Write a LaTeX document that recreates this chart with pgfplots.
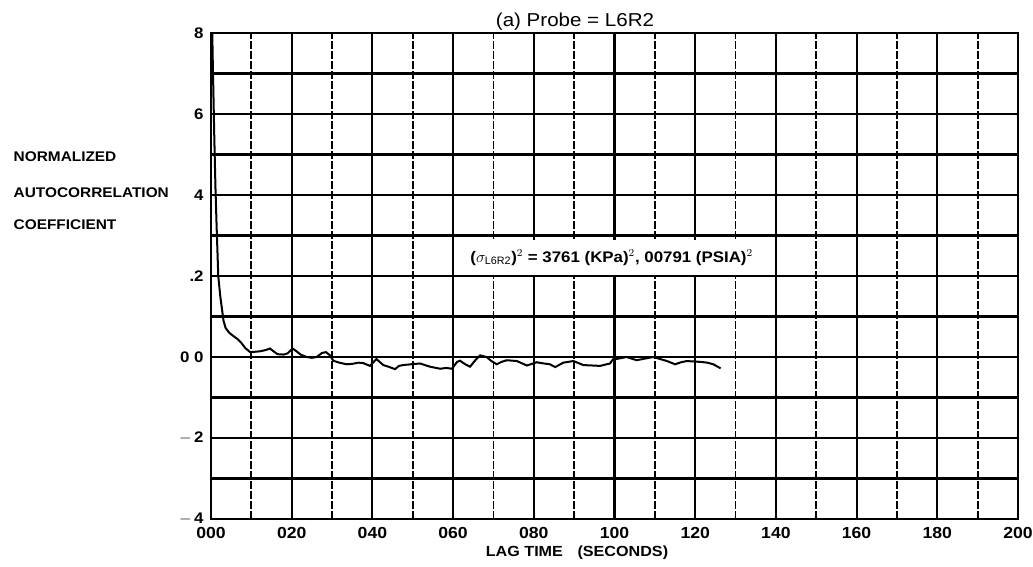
\documentclass[border=0pt]{standalone}
\usepackage{pgfplots}
\pgfplotsset{compat=1.18}
\usepackage{fontspec}
\setmainfont{Liberation Sans}
\newfontfamily\wide[FakeStretch=1.1]{Liberation Sans}
\begin{document}
\begin{tikzpicture}[x=0.75pt,y=0.75pt]
\useasboundingbox (0,0) rectangle (1033,567);
\begin{axis}[
  at={(158.25pt,36pt)}, anchor=south west,
  scale only axis, width=605.25pt, height=364.5pt,
  xmin=0, xmax=200, ymin=-0.4, ymax=0.8,
  xtick={0,20,...,200},
  xticklabels={000,020,040,060,080,100,120,140,160,180,200},
  minor xtick={10,30,...,190},
  ytick={-0.4,-0.2,0,0.2,0.4,0.6,0.8},
  yticklabels={$-$\,4,$-$\,2,0 0,.2,4,6,8},
  minor ytick={-0.3,-0.1,0.1,0.3,0.5,0.7},
  major tick length=0pt, minor tick length=0pt,
  xmajorgrids, ymajorgrids, xminorgrids, yminorgrids,
  major grid style={black, line width=1.6pt},
  minor x grid style={black, line width=1.3pt, dash pattern=on 6pt off 1.5pt},
  minor y grid style={black, line width=1.6pt},
  axis line style={black, line width=2pt},
  xticklabel style={font=\wide\fontsize{12}{14}\selectfont\bfseries, yshift=-3pt},
  yticklabel style={font=\wide\fontsize{11.5}{13}\selectfont\bfseries, xshift=-2pt},
  /pgf/number format/assume math mode=true,
  clip=true,
]
\addplot[black, line width=1.5pt] coordinates {
(0.0,1.00) (0.4,0.75) (0.8,0.55) (1.1,0.42) (1.4,0.32) (1.8,0.20) (2.3,0.15)
(2.7,0.12) (3.1,0.09) (3.6,0.072) (4.5,0.060) (5.5,0.052) (6.5,0.045)
(7.5,0.035) (8.5,0.022) (9.7,0.012) (11.0,0.013) (12.1,0.014) (13.5,0.017)
(14.6,0.021) (15.5,0.014) (16.5,0.007) (18.0,0.006) (19.0,0.009) (20.2,0.021)
(21.2,0.014) (22.2,0.006) (23.7,0.000) (25.0,-0.002) (26.2,0.000) (27.5,0.010)
(28.5,0.012) (29.5,0.004) (30.3,-0.009) (31.8,-0.014) (33.6,-0.018) (35.0,-0.017)
(36.5,-0.014) (37.7,-0.015) (39.4,-0.022) (41.0,-0.005) (42.7,-0.020) (44.0,-0.024)
(45.6,-0.030) (46.6,-0.022) (47.6,-0.020) (49.5,-0.018) (51.8,-0.016) (54.3,-0.024)
(56.8,-0.029) (58.3,-0.027) (59.7,-0.029) (61.0,-0.012) (61.7,-0.009) (63.0,-0.018)
(64.2,-0.024) (65.5,-0.008) (66.7,0.004) (68.3,0.000) (69.5,-0.010) (70.8,-0.018)
(72.0,-0.012) (73.3,-0.008) (75.8,-0.010) (78.3,-0.021) (80.7,-0.013) (82.5,-0.016)
(84.0,-0.018) (85.3,-0.025) (87.3,-0.014) (89.8,-0.010) (92.3,-0.020) (94.5,-0.021)
(96.4,-0.022) (98.9,-0.016) (99.6,-0.006) (101.0,-0.004) (103.0,0.000) (105.5,-0.008)
(107.5,-0.004) (109.6,0.000) (111.3,-0.005) (113.0,-0.010) (115.0,-0.018) (116.5,-0.013)
(117.9,-0.010) (119.5,-0.011) (121.2,-0.012) (123.0,-0.014) (124.5,-0.018) (126.3,-0.028)
};
\node[fill=white, inner sep=0pt, minimum width=234pt, minimum height=26pt,
      font=\wide\fontsize{11.5}{13}\selectfont\bfseries] at (axis cs:99.3,0.245)
  {($\sigma_{\mathrm{L6R2}}$)$^{2}$ = 3761 (KPa)$^{2}$, 00791 (PSIA)$^{2}$};
\end{axis}
\node[font=\wide\fontsize{14}{16}\selectfont] at (575,545) {(a) Probe = L6R2};
\node[font=\wide\fontsize{11}{13}\selectfont\bfseries] at (577,14) {LAG TIME\quad(SECONDS)};
\node[anchor=west, font=\wide\fontsize{10.5}{12}\selectfont\bfseries] at (9,410) {NORMALIZED};
\node[anchor=west, font=\wide\fontsize{10.5}{12}\selectfont\bfseries] at (9,374) {AUTOCORRELATION};
\node[anchor=west, font=\wide\fontsize{10.5}{12}\selectfont\bfseries] at (9,342) {COEFFICIENT};
\end{tikzpicture}
\end{document}
